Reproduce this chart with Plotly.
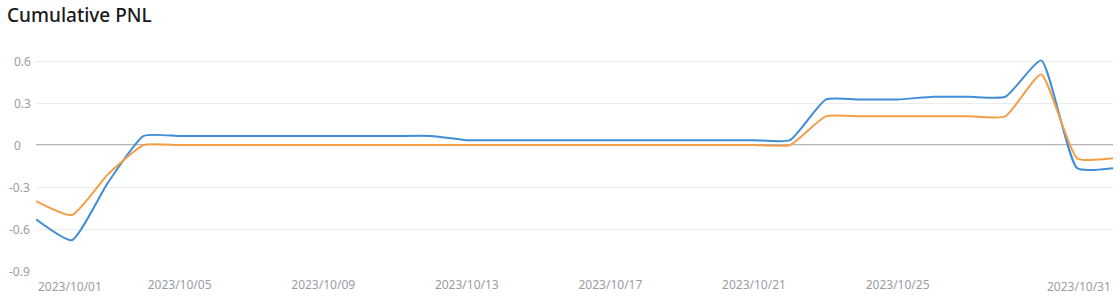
import plotly.graph_objects as go

dates = ["2023-10-01", "2023-10-02", "2023-10-03", "2023-10-04", "2023-10-05",
         "2023-10-06", "2023-10-07", "2023-10-08", "2023-10-09", "2023-10-10",
         "2023-10-11", "2023-10-12", "2023-10-13", "2023-10-14", "2023-10-15",
         "2023-10-16", "2023-10-17", "2023-10-18", "2023-10-19", "2023-10-20",
         "2023-10-21", "2023-10-22", "2023-10-23", "2023-10-24", "2023-10-25",
         "2023-10-26", "2023-10-27", "2023-10-28", "2023-10-29", "2023-10-30",
         "2023-10-31"]

pnl_blue = [-0.53, -0.68, -0.27, 0.065, 0.065, 0.065, 0.065, 0.065, 0.065, 0.065,
            0.065, 0.065, 0.035, 0.035, 0.035, 0.035, 0.035, 0.035, 0.035, 0.035,
            0.035, 0.035, 0.325, 0.325, 0.326, 0.345, 0.345, 0.345, 0.605, -0.165,
            -0.165]

pnl_orange = [-0.40, -0.50, -0.21, 0.0, 0.0, 0.0, 0.0, 0.0, 0.0, 0.0,
              0.0, 0.0, 0.0, 0.0, 0.0, 0.0, 0.0, 0.0, 0.0, 0.0,
              0.0, 0.0, 0.205, 0.205, 0.205, 0.205, 0.205, 0.205, 0.505, -0.095,
              -0.095]

x_tick_vals = ["2023-10-05", "2023-10-09", "2023-10-13", "2023-10-17", "2023-10-21", "2023-10-25"]
x_tick_text = ["2023/10/05", "2023/10/09", "2023/10/13", "2023/10/17", "2023/10/21", "2023/10/25"]
x_end_labels = [("2023-10-01", "2023/10/01", "left"), ("2023-10-31", "2023/10/31", "right")]
y_tick_vals = [0.6, 0.3, 0, -0.3, -0.6, -0.9]
y_tick_text = ["0.6", "0.3", "0", "-0.3", "-0.6", "-0.9"]

FONT = "Noto Sans"
LABEL_COLOR = "#9a9ca4"
W, H = 1120, 302
ML, MR, MT, MB = 36, 7, 59, 31

fig = go.Figure()
fig.add_trace(go.Scatter(x=dates, y=pnl_blue, mode="lines",
                         line=dict(color="#3f8dd6", width=2, shape="spline", smoothing=0.5),
                         hoverinfo="skip", showlegend=False))
fig.add_trace(go.Scatter(x=dates, y=pnl_orange, mode="lines",
                         line=dict(color="#f39e48", width=2, shape="spline", smoothing=0.5),
                         hoverinfo="skip", showlegend=False))

# zero line
fig.add_hline(y=0, line=dict(color="#5e5e5e", width=1), layer="below")

annotations = []
for val, txt, anchor in x_end_labels:
    annotations.append(dict(x=val, xref="x", y=0, yref="paper", text=txt,
                            xanchor=anchor, yanchor="top", yshift=-5, showarrow=False,
                            font=dict(family=FONT, size=12, color=LABEL_COLOR)))
for val, txt in zip(y_tick_vals, y_tick_text):
    left_px = 12 - (5 if txt.startswith("-") else 0)
    annotations.append(dict(x=dates[0], xref="x", y=val, yref="y", text=txt,
                            xanchor="left", yanchor="middle", xshift=left_px - ML,
                            showarrow=False,
                            font=dict(family=FONT, size=12, color=LABEL_COLOR)))

fig.update_layout(
    width=W, height=H,
    margin=dict(l=ML, r=MR, t=MT, b=MB),
    paper_bgcolor="white", plot_bgcolor="white",
    title=dict(text="Cumulative PNL", x=7 / W, xref="container", xanchor="left",
               y=1 - 9 / H, yref="container", yanchor="top", pad=dict(t=0, l=0),
               font=dict(family=FONT, size=19, color="#1a1a1a", weight=500)),
    xaxis=dict(type="date", range=["2023-10-01", "2023-10-31"], tickvals=x_tick_vals,
               ticktext=x_tick_text, showgrid=False, zeroline=False, showline=False,
               ticks="", ticklabelstandoff=5,
               tickfont=dict(family=FONT, size=12, color=LABEL_COLOR), fixedrange=True),
    yaxis=dict(range=[-0.9, 0.615], tickvals=y_tick_vals, showticklabels=False,
               showgrid=True, gridcolor="#ececec", gridwidth=1, zeroline=False,
               showline=False, ticks="", fixedrange=True),
    annotations=annotations,
)

fig.write_html("out.html")
